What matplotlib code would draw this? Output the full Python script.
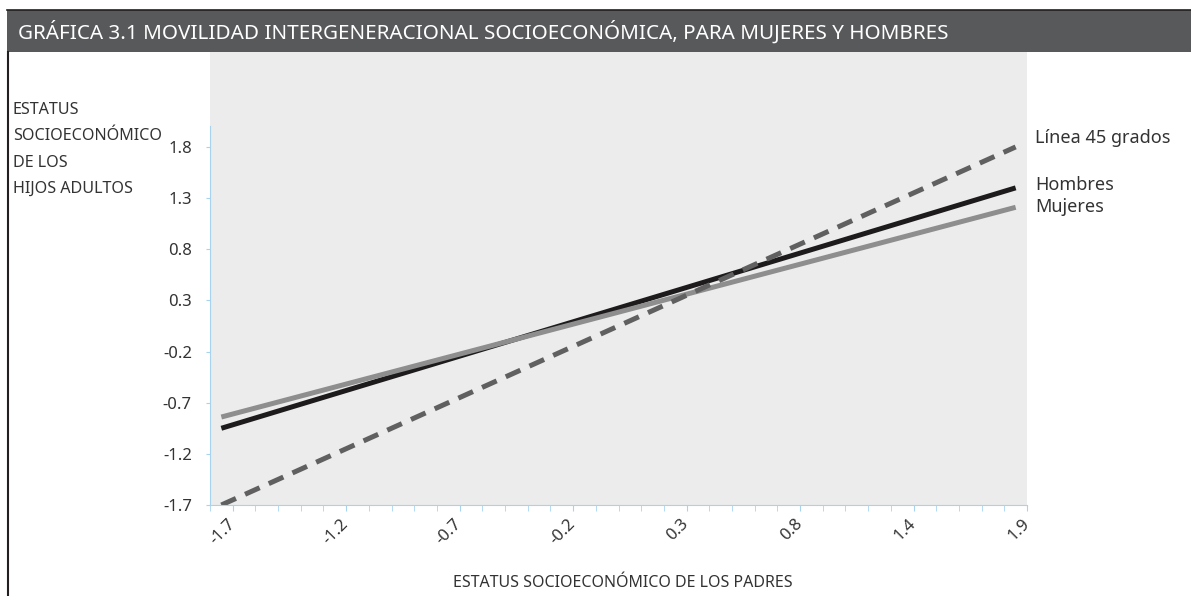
import matplotlib.pyplot as plt
from matplotlib.patches import Rectangle
from matplotlib.lines import Line2D
from matplotlib.ticker import MultipleLocator

# datos
padres = [-1.7, 1.8]
linea45 = [-1.7, 1.8]
hombres = [-0.95, 1.40]
mujeres = [-0.84, 1.21]

x_etiquetas = ['-1.7', '-1.2', '-0.7', '-0.2', '0.3', '0.8', '1.4', '1.9']
y_ticks = [-1.7, -1.2, -0.7, -0.2, 0.3, 0.8, 1.3, 1.8]

W, H = 1191, 596
plt.rcParams['font.family'] = ['Noto Sans', 'DejaVu Sans']
texto = '#333333'
azul = '#a8d3ef'


def px(x, y):
    return x / W, 1 - y / H


fig = plt.figure(figsize=(W / 100, H / 100), dpi=100)

# barra del título
fig.add_artist(Rectangle(px(7, 52), 1 - 7 / W, 42 / H, transform=fig.transFigure,
                         color='#58595b', lw=0))
fig.add_artist(Line2D([7 / W, 1], [1 - 10 / H] * 2, color='#231f20', lw=1.2))
fig.add_artist(Line2D([8 / W] * 2, [0, 1 - 52 / H], color='#231f20', lw=1.5))
fig.text(*px(18, 32), 'GRÁFICA 3.1 MOVILIDAD INTERGENERACIONAL SOCIOECONÓMICA, PARA MUJERES Y HOMBRES',
         color='white', fontsize=14.9, va='center', ha='left')

ax = fig.add_axes([210 / W, 91 / H, 817 / W, 453 / H])
ax.set_facecolor('#ebeceb')

ax.plot(padres, hombres, color='#1e1b1c', lw=3.6, solid_capstyle='butt')
ax.plot(padres, mujeres, color='#8e8e8e', lw=3.6, solid_capstyle='butt')
ax.plot(padres, linea45, color='#606060', lw=3.6, dashes=(3.2, 2.0))

ax.set_xlim(-1.75, 1.85)
ax.set_ylim(-1.7, 2.728)

for s in ['top', 'right']:
    ax.spines[s].set_visible(False)
ax.spines['left'].set_color(azul)
ax.spines['bottom'].set_color(azul)
ax.spines['left'].set_bounds(-1.7, 2.0)

ax.set_yticks(y_ticks)
ax.set_yticklabels([f'{v:.1f}' for v in y_ticks])
ax.tick_params(axis='y', colors=azul, labelcolor=texto, labelsize=12, length=3, pad=10)

ax.set_xticks([-1.65 + 0.5 * i for i in range(len(x_etiquetas))])
ax.set_xticklabels(x_etiquetas, rotation=45, ha='right', va='center', rotation_mode='anchor')
ax.xaxis.set_minor_locator(MultipleLocator(0.1, offset=0.05))
ax.tick_params(axis='x', which='both', colors=azul, labelcolor=texto, labelsize=12, length=4, pad=8)

# leyenda como texto directo
fig.text(*px(1035, 138), 'Línea 45 grados', color=texto, fontsize=13, va='center')
fig.text(*px(1035, 185), 'Hombres', color=texto, fontsize=13, va='center')
fig.text(*px(1035, 207), 'Mujeres', color=texto, fontsize=13, va='center')

# títulos de ejes
for i, linea in enumerate(['ESTATUS', 'SOCIOECONÓMICO', 'DE LOS', 'HIJOS ADULTOS']):
    fig.text(*px(13, 110 + 26.3 * i), linea, color=texto, fontsize=11.6, va='center')
fig.text(*px(623, 583), 'ESTATUS SOCIOECONÓMICO DE LOS PADRES', color=texto,
         fontsize=11.5, ha='center', va='center')

fig.savefig('out.png', dpi=100)
